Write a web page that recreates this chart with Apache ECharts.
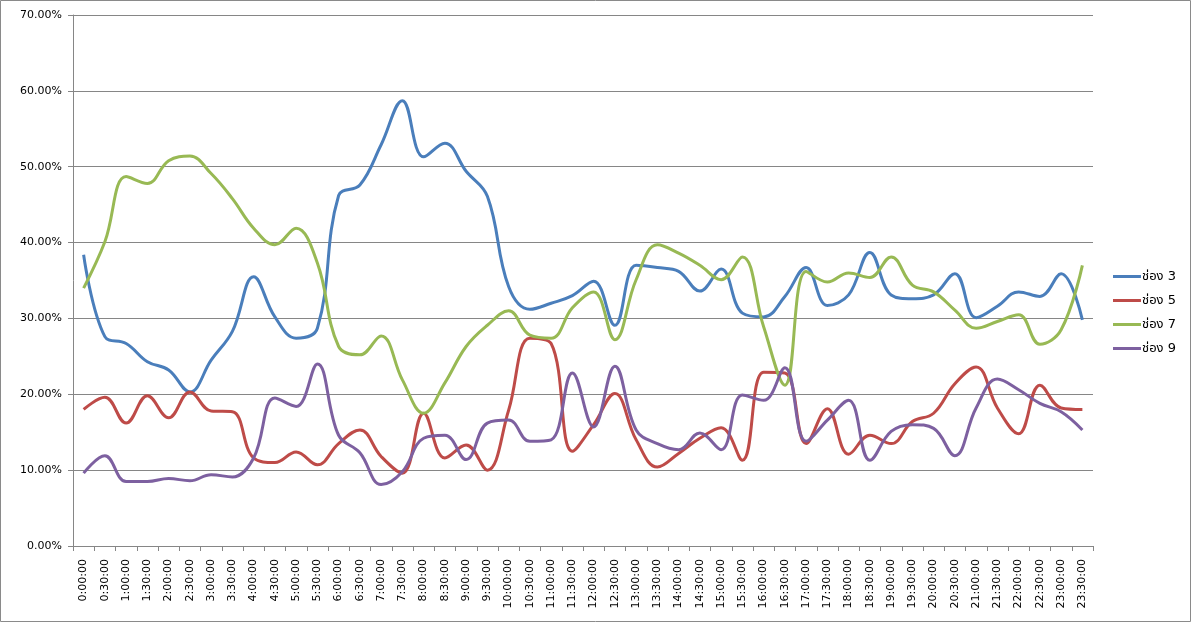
<!DOCTYPE html>
<html>
<head>
<meta charset="utf-8">
<script src="https://cdn.jsdelivr.net/npm/echarts@6/dist/echarts.min.js"></script>
<style>
html,body{margin:0;padding:0;background:#fff;}
#chart{width:1193px;height:624px;}
</style>
</head>
<body>
<div id="chart"></div>
<script>
const categories = [
  '0:00:00','0:30:00','1:00:00','1:30:00','2:00:00','2:30:00','3:00:00','3:30:00',
  '4:00:00','4:30:00','5:00:00','5:30:00','6:00:00','6:30:00','7:00:00','7:30:00',
  '8:00:00','8:30:00','9:00:00','9:30:00','10:00:00','10:30:00','11:00:00','11:30:00',
  '12:00:00','12:30:00','13:00:00','13:30:00','14:00:00','14:30:00','15:00:00','15:30:00',
  '16:00:00','16:30:00','17:00:00','17:30:00','18:00:00','18:30:00','19:00:00','19:30:00',
  '20:00:00','20:30:00','21:00:00','21:30:00','22:00:00','22:30:00','23:00:00','23:30:00'
];
const seriesNames = ['ช่อง 3','ช่อง 5','ช่อง 7','ช่อง 9'];
const ch3 = [38.4,27.6,26.7,24.3,23.2,20.3,24.5,28.3,35.5,30.2,27.4,28.7,
             46.2,47.6,52.9,58.7,51.3,53.1,49.4,46.1,34.2,31.2,32.0,33.0,
             34.9,29.1,37.0,36.7,36.2,33.6,36.5,30.7,30.2,32.9,36.7,31.7,
             33.1,38.7,33.1,32.6,33.1,35.9,30.1,31.6,33.5,32.9,35.9,29.8];
const ch5 = [18.0,19.6,16.2,19.8,16.9,20.3,17.8,17.7,11.6,11.0,12.4,10.7,
             13.5,15.3,11.8,9.6,17.5,11.6,13.3,10.0,17.9,27.4,26.7,12.5,
             16.0,20.1,14.0,10.4,12.2,14.2,15.6,11.3,22.9,22.8,13.5,18.1,
             12.1,14.6,13.5,16.4,17.5,21.4,23.6,18.2,14.8,21.2,18.2,18.0];
const ch7 = [34.0,40.1,48.7,47.8,50.8,51.4,49.1,45.8,41.9,39.7,41.9,37.3,
             26.3,25.2,27.7,21.9,17.5,21.5,26.3,29.1,31.0,27.8,27.4,31.4,
             33.5,27.2,35.1,39.7,38.6,37.0,35.1,38.1,28.9,21.2,36.2,34.8,
             36.0,35.4,38.1,34.4,33.5,31.1,28.7,29.6,30.5,26.6,28.5,37.0];
const ch9 = [9.6,11.9,8.5,8.5,8.9,8.6,9.4,9.1,11.6,19.5,18.4,24.0,
             14.6,12.3,8.1,9.8,14.2,14.6,11.4,16.2,16.6,13.8,14.0,22.8,
             15.7,23.7,15.3,13.5,12.7,14.9,12.7,19.9,19.2,23.5,13.8,16.6,
             19.2,11.3,15.1,16.0,15.5,11.9,18.2,22.0,20.6,18.8,17.7,15.3];
const colors = ['#4A7EBB','#BE4B48','#98B954','#7D60A0'];
const FONT = "'DejaVu Sans', 'Noto Sans Thai', 'Noto Sans', sans-serif";

const chart = echarts.init(document.getElementById('chart'), null, {renderer:'canvas'});
const mk = (name, data, i) => ({
  name: name, type: 'line', data: data, smooth: 0.4, showSymbol: false, symbol: 'none',
  lineStyle: {width: 3, color: colors[i]}, itemStyle: {color: colors[i]},
  animation: false
});
chart.setOption({
  animation: false,
  textStyle: {fontFamily: FONT},
  graphic: [{
    type: 'rect', shape: {x: 0.5, y: 0.5, width: 1190, height: 621},
    style: {fill: 'none', stroke: '#8a8a8a', lineWidth: 1}, silent: true, z: -1
  }],
  grid: {left: 73, right: 100, top: 15, bottom: 78, containLabel: false},
  legend: {
    orient: 'vertical', left: 1113, top: 270, itemGap: 11, padding: 0,
    itemWidth: 28, itemHeight: 3, icon: 'rect',
    data: seriesNames,
    textStyle: {fontFamily: FONT, fontSize: 13, color: '#000', padding: [0,0,0,-4]}
  },
  xAxis: {
    type: 'category', data: categories, boundaryGap: true,
    axisLine: {lineStyle: {color: '#868686', width: 1}},
    axisTick: {show: true, length: 5, lineStyle: {color: '#868686'}},
    axisLabel: {interval: 0, rotate: 90, fontSize: 11, color: '#000', fontFamily: FONT, margin: 13},
    splitLine: {show: false}
  },
  yAxis: {
    type: 'value', min: 0, max: 70, interval: 10,
    axisLine: {show: true, lineStyle: {color: '#868686', width: 1}},
    axisTick: {show: true, length: 5, inside: false, lineStyle: {color: '#868686'}},
    axisLabel: {fontSize: 11, color: '#000', fontFamily: FONT, margin: 11,
      formatter: v => v.toFixed(2) + '%'},
    splitLine: {show: true, lineStyle: {color: '#868686', width: 1}}
  },
  series: [mk(seriesNames[0], ch3, 0), mk(seriesNames[1], ch5, 1), mk(seriesNames[2], ch7, 2), mk(seriesNames[3], ch9, 3)]
});
</script>
</body>
</html>
